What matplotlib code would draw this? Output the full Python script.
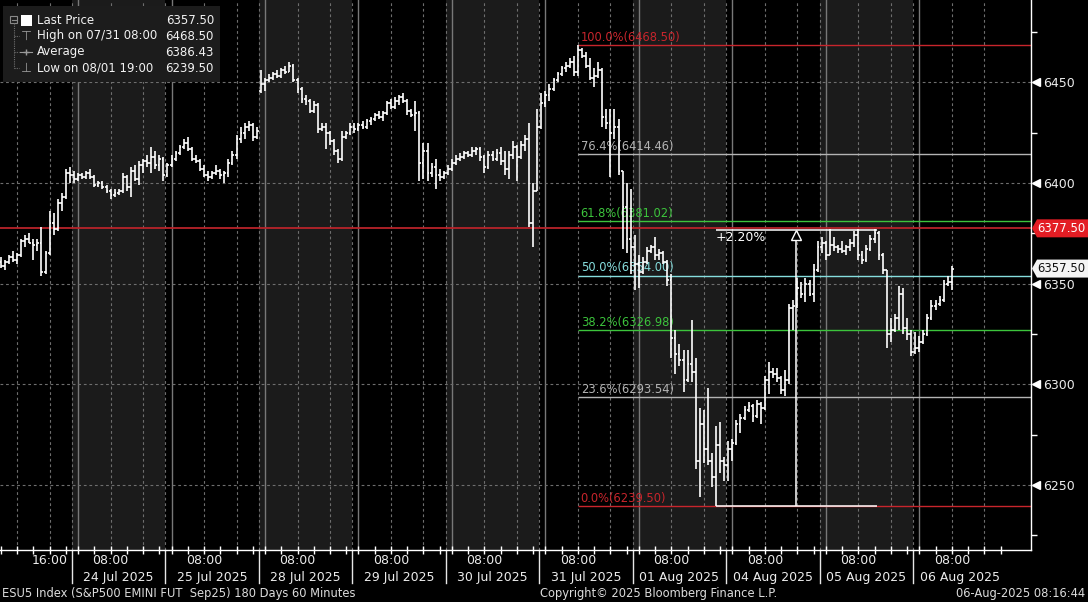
import numpy as np
import matplotlib
matplotlib.use("Agg")
import matplotlib.pyplot as plt
from matplotlib.patches import Polygon, Rectangle
from matplotlib.transforms import offset_copy, IdentityTransform, blended_transform_factory

# hourly OHLC bars, ESU5, 23 Jul 04:00 -> 06 Aug 08:00 (London time)
OPEN = [
    6361, 6359, 6361, 6363, 6362, 6364, 6371, 6372, 6370, 6369, 6370, 6356, 6365, 6380, 6377, 6390, 6393, 6405,
    6404, 6402, 6404, 6403, 6405, 6403, 6399, 6400, 6398, 6396, 6394, 6395, 6396, 6403, 6398, 6406, 6402, 6409, 6411, 6410, 6413, 6409, 6412,
    6404, 6409, 6412, 6415, 6418, 6420, 6417, 6412, 6411, 6407, 6404, 6403, 6405, 6406, 6404, 6405, 6410, 6414, 6422, 6425, 6428, 6429, 6423,
    6446, 6449, 6451, 6452, 6454, 6453, 6456, 6455, 6458, 6451, 6447, 6442, 6441, 6436, 6439, 6427, 6428, 6425, 6421, 6416, 6412, 6423, 6425,
    6428, 6427, 6429, 6428, 6431, 6432, 6434, 6433, 6435, 6440, 6438, 6441, 6443, 6441, 6436, 6434, 6435, 6410, 6416, 6405, 6408, 6404, 6403,
    6405, 6407, 6410, 6412, 6413, 6415, 6414, 6416, 6417, 6413, 6408, 6414, 6412, 6415, 6411, 6407, 6414, 6418, 6413, 6419, 6422, 6380, 6396,
    6428, 6440, 6444, 6447, 6451, 6454, 6457, 6458, 6460, 6455, 6466, 6463, 6458, 6452, 6453, 6456, 6433, 6430, 6425, 6428, 6406, 6388, 6372,
    6368, 6360, 6356, 6361, 6366, 6368, 6364, 6365, 6361, 6352, 6323, 6315, 6312, 6302, 6310, 6306, 6262, 6280, 6268, 6262, 6254, 6270, 6262,
    6260, 6268, 6271, 6280, 6283, 6287, 6289, 6284, 6290, 6288, 6302, 6306, 6305, 6303, 6297, 6302, 6338, 6339, 6348, 6345, 6350, 6345, 6357,
    6368, 6370, 6364, 6369, 6368, 6367, 6366, 6368, 6370, 6374, 6364, 6362, 6367, 6372, 6375, 6364, 6357, 6325, 6327, 6333, 6345, 6328, 6325,
    6316, 6318, 6321, 6325, 6333, 6339, 6340, 6342, 6350, 6351,
]
HIGH = [
    6363, 6362, 6364, 6366, 6365, 6372, 6374, 6375, 6372, 6372, 6378, 6366, 6386, 6385, 6392, 6395, 6407, 6408,
    6406, 6405, 6405, 6406, 6407, 6404, 6401, 6401, 6399, 6397, 6397, 6397, 6405, 6404, 6408, 6409, 6411, 6412, 6414, 6418, 6416, 6414, 6413,
    6410, 6414, 6416, 6419, 6422, 6423, 6418, 6414, 6412, 6409, 6406, 6406, 6409, 6407, 6406, 6412, 6416, 6424, 6428, 6430, 6431, 6430, 6428,
    6456, 6452, 6454, 6455, 6456, 6457, 6458, 6460, 6459, 6452, 6448, 6444, 6442, 6441, 6440, 6430, 6430, 6426, 6422, 6417, 6426, 6426, 6430,
    6430, 6430, 6431, 6432, 6433, 6435, 6436, 6436, 6441, 6442, 6443, 6444, 6445, 6442, 6437, 6441, 6436, 6420, 6420, 6410, 6412, 6407, 6406,
    6409, 6412, 6414, 6415, 6416, 6416, 6418, 6418, 6418, 6414, 6416, 6416, 6417, 6418, 6416, 6416, 6421, 6419, 6421, 6424, 6430, 6400, 6437,
    6445, 6446, 6449, 6452, 6455, 6458, 6460, 6462, 6463, 6468.5, 6467, 6465, 6462, 6457, 6460, 6457, 6437, 6437, 6437, 6432, 6406, 6400, 6397,
    6374, 6364, 6363, 6368, 6369, 6373, 6367, 6366, 6362, 6355, 6327, 6320, 6317, 6317, 6332, 6313, 6288, 6287, 6298, 6266, 6279, 6281, 6264,
    6272, 6273, 6282, 6285, 6289, 6291, 6290, 6292, 6291, 6304, 6311, 6308, 6308, 6304, 6307, 6340, 6342, 6353, 6351, 6353, 6352, 6360, 6371,
    6373, 6371, 6377, 6373, 6369, 6371, 6369, 6372, 6376, 6377, 6366, 6369, 6374, 6377, 6376, 6365, 6357, 6333, 6335, 6349, 6348, 6333, 6327,
    6326, 6324, 6327, 6335, 6342, 6342, 6344, 6352, 6354, 6359,
]
LOW = [
    6358, 6357, 6360, 6361, 6360, 6363, 6368, 6370, 6362, 6366, 6354, 6355, 6364, 6374, 6376, 6386, 6392, 6400,
    6400, 6401, 6402, 6402, 6402, 6398, 6398, 6397, 6395, 6392, 6393, 6394, 6395, 6396, 6393, 6401, 6399, 6405, 6408, 6405, 6407, 6406, 6401,
    6403, 6408, 6411, 6414, 6417, 6416, 6411, 6410, 6406, 6403, 6401, 6402, 6404, 6402, 6400, 6403, 6409, 6412, 6420, 6422, 6426, 6421, 6422,
    6445, 6446, 6450, 6451, 6452, 6452, 6454, 6455, 6450, 6445, 6440, 6439, 6435, 6435, 6425, 6426, 6417, 6419, 6414, 6410, 6411, 6422, 6424,
    6425, 6426, 6427, 6427, 6429, 6431, 6432, 6431, 6434, 6437, 6437, 6439, 6440, 6434, 6433, 6426, 6401, 6402, 6401, 6403, 6397, 6401, 6402,
    6404, 6406, 6409, 6411, 6412, 6413, 6413, 6414, 6411, 6405, 6407, 6411, 6411, 6409, 6404, 6402, 6412, 6401, 6412, 6416, 6378, 6368, 6396,
    6427, 6438, 6441, 6446, 6450, 6453, 6455, 6457, 6453, 6453, 6462, 6457, 6451, 6448, 6452, 6428, 6427, 6403, 6422, 6404, 6367, 6365, 6355,
    6347, 6348, 6355, 6360, 6365, 6362, 6362, 6360, 6349, 6313, 6305, 6309, 6296, 6301, 6301, 6258, 6244, 6261, 6260, 6249, 6239.5, 6256, 6252,
    6252, 6262, 6270, 6276, 6282, 6286, 6281, 6283, 6280, 6287, 6295, 6303, 6301, 6295, 6294, 6300, 6327, 6338, 6343, 6341, 6344, 6341, 6356,
    6365, 6362, 6364, 6366, 6365, 6365, 6364, 6366, 6368, 6362, 6360, 6361, 6366, 6370, 6362, 6355, 6318, 6321, 6326, 6327, 6325, 6322, 6314,
    6315, 6316, 6320, 6324, 6332, 6337, 6339, 6341, 6349, 6347,
]
CLOSE = [
    6359, 6361, 6363, 6362, 6364, 6371, 6372, 6370, 6369, 6370, 6356, 6365, 6380, 6377, 6390, 6393, 6405, 6404,
    6402, 6404, 6403, 6405, 6403, 6399, 6400, 6398, 6396, 6394, 6395, 6396, 6403, 6398, 6406, 6402, 6409, 6411, 6410, 6413, 6409, 6412, 6404,
    6409, 6412, 6415, 6418, 6420, 6417, 6412, 6411, 6407, 6404, 6403, 6405, 6406, 6404, 6405, 6410, 6414, 6422, 6425, 6428, 6429, 6423, 6426,
    6449, 6451, 6452, 6454, 6453, 6456, 6455, 6458, 6451, 6447, 6442, 6441, 6436, 6439, 6427, 6428, 6425, 6421, 6416, 6412, 6423, 6425, 6428,
    6427, 6429, 6428, 6431, 6432, 6434, 6433, 6435, 6440, 6438, 6441, 6443, 6441, 6436, 6434, 6435, 6410, 6416, 6405, 6408, 6404, 6403, 6405,
    6407, 6410, 6412, 6413, 6415, 6414, 6416, 6417, 6413, 6408, 6414, 6412, 6415, 6411, 6407, 6414, 6418, 6413, 6419, 6422, 6380, 6396, 6428,
    6440, 6444, 6447, 6451, 6454, 6457, 6458, 6460, 6455, 6466, 6463, 6458, 6452, 6453, 6456, 6433, 6430, 6425, 6428, 6406, 6388, 6372, 6368,
    6360, 6356, 6361, 6366, 6368, 6364, 6365, 6361, 6352, 6323, 6315, 6312, 6302, 6310, 6306, 6262, 6280, 6268, 6262, 6254, 6270, 6262, 6260,
    6268, 6271, 6280, 6283, 6287, 6289, 6284, 6290, 6288, 6302, 6306, 6305, 6303, 6297, 6302, 6338, 6339, 6348, 6345, 6350, 6345, 6357, 6368,
    6370, 6364, 6369, 6368, 6367, 6366, 6368, 6370, 6374, 6364, 6362, 6367, 6372, 6375, 6364, 6357, 6325, 6327, 6333, 6345, 6328, 6325, 6316,
    6318, 6321, 6325, 6333, 6339, 6340, 6342, 6350, 6351, 6357.5,
]

DAYS = ["24 Jul 2025", "25 Jul 2025", "28 Jul 2025", "29 Jul 2025", "30 Jul 2025",
        "31 Jul 2025", "01 Aug 2025", "04 Aug 2025", "05 Aug 2025", "06 Aug 2025"]
FIRST_SESSION = 18      # bar index of the 23:00 bar that opens 24 Jul
SESSION_LEN = 23

FIB_PCT = [100.0, 76.4, 61.8, 50.0, 38.2, 23.6, 0.0]
FIB_PRICE = [6468.50, 6414.46, 6381.02, 6354.00, 6326.98, 6293.54, 6239.50]
FIB_COLOR = ["#c8252c", "#b4b4b4", "#3cc43c", "#86dede", "#3cc43c", "#b4b4b4", "#c8252c"]
FIB_START = 142          # 31 Jul 08:00 bar (swing high)

PRICE_LINE = 6377.50
LAST_PRICE = 6357.50
MEAS_START, MEAS_END, MEAS_MID = 176, 215.5, 195.7
MEAS_LOW, MEAS_PCT = 6239.50, 2.20

YTICKS = [6250, 6300, 6350, 6400, 6450]
LEGEND_ROWS = [("Last Price", "6357.50"), ("High on 07/31 08:00", "6468.50"),
               ("Average", "6386.43"), ("Low on 08/01 19:00", "6239.50")]

W, H = 1088, 602
FS = 9


def fx(px):
    return px / W


def fy(py):
    return 1 - py / H


fig = plt.figure(figsize=(W / 100, H / 100), dpi=100, facecolor="black")
ax = fig.add_axes([0, 52 / H, 1031 / W, 550 / H])
ax.set_facecolor("black")
XMAX = 253.5
ax.set_xlim(-0.21, XMAX)
ax.set_ylim(6217.6, 6491.0)

x = np.arange(len(CLOSE))

# alternating session shading + vertical grid
for k in range(len(DAYS)):
    b = FIRST_SESSION + SESSION_LEN * k - 0.5
    if k % 2 == 0:
        ax.axvspan(b, b + SESSION_LEN, color="#1b1b1b", lw=0, zorder=0)
    ax.axvline(b, color="#6e6e6e", lw=0.8, ls=(0, (2.5, 2.5)), zorder=1)
    ax.axvline(b + 1.5, color="#787878", lw=1.0, zorder=1)
for k in range(-1, len(DAYS)):
    for j in (9, 17):
        xi = FIRST_SESSION + SESSION_LEN * k + j
        if 0 <= xi <= XMAX:
            ax.axvline(xi, color="#6e6e6e", lw=0.8, ls=(0, (2.5, 2.5)), zorder=1)
for yt in YTICKS:
    ax.axhline(yt, color="#6e6e6e", lw=0.8, ls=(0, (2.5, 2.5)), zorder=1)

# fibonacci retracement
for pct, pr, col in zip(FIB_PCT, FIB_PRICE, FIB_COLOR):
    ax.hlines(pr, FIB_START, XMAX, color=col, lw=1.0, zorder=2)
    ax.annotate(f"{pct:.1f}%({pr:.2f})", (FIB_START, pr), xytext=(2, 1),
                textcoords="offset points", color=col, fontsize=8.3, va="bottom", zorder=2)
ax.axhline(PRICE_LINE, color="#b8232a", lw=1.3, zorder=2)

# measurement tool
top = MEAS_LOW * (1 + MEAS_PCT / 100)
ax.hlines([MEAS_LOW, top], MEAS_START, MEAS_END, color="white", lw=1.1, zorder=3)
ax.vlines(MEAS_MID, MEAS_LOW, top - 5, color="white", lw=1.1, zorder=3)
ax.plot([MEAS_MID], [top - 2.8], marker="^", ms=7, mfc="black", mec="white", mew=1.0, zorder=4)
ax.annotate(f"+{MEAS_PCT:.2f}%", (MEAS_START, top), xytext=(0, -8), textcoords="offset pixels",
            color="white", fontsize=FS, va="center", ha="left", zorder=4)

# OHLC bars
ax.vlines(x, LOW, HIGH, color="white", lw=1.2, zorder=3)
ax.hlines(OPEN, x - 0.45, x, color="white", lw=1.2, zorder=3)
ax.hlines(CLOSE, x, x + 0.45, color="white", lw=1.2, zorder=3)

# spines / axes
for s in ("left", "top"):
    ax.spines[s].set_visible(False)
for s in ("bottom", "right"):
    ax.spines[s].set_color("white")
    ax.spines[s].set_linewidth(1.0)
ax.yaxis.tick_right()
ax.set_yticks(YTICKS)
ax.set_yticklabels([str(v) for v in YTICKS])
ax.set_yticks([v + 25 for v in [6200] + YTICKS], minor=True)
ax.tick_params(axis="y", which="major", length=0, pad=9, labelsize=FS, labelcolor="#ececec")
ax.tick_params(axis="y", which="minor", length=4, width=1, color="white", direction="out")
tri = offset_copy(blended_transform_factory(ax.transAxes, ax.transData), fig=fig, x=5, units="dots")
ax.plot(np.ones(len(YTICKS)), YTICKS, transform=tri, marker="<", ms=5.5, color="white",
        ls="none", clip_on=False)

four_h = []
for k in range(-1, len(DAYS)):
    for j in (1, 5, 9, 13, 17, 21):
        xi = FIRST_SESSION + SESSION_LEN * k + j
        if 0 <= xi <= XMAX:
            four_h.append(xi)
ax.set_xticks(four_h)
ax.tick_params(axis="x", length=6, width=1, direction="inout", color="white", labelbottom=False)

xt = ax.get_xaxis_transform()
t_time = offset_copy(xt, fig=fig, y=-11, units="dots")
t_date = offset_copy(xt, fig=fig, y=-28, units="dots")
ax.text(FIRST_SESSION - SESSION_LEN + 17, 0, "16:00", transform=t_time, ha="center", va="center",
        color="#ececec", fontsize=FS)
for k, day in enumerate(DAYS):
    b = FIRST_SESSION + SESSION_LEN * k - 0.5
    ax.text(b + 9.5, 0, "08:00", transform=t_time, ha="center", va="center", color="#ececec", fontsize=FS)
    ax.text(b + SESSION_LEN / 2, 0, day, transform=t_date, ha="center", va="center",
            color="#ececec", fontsize=FS)
    ax.plot([b, b], [0, -33 / 550], transform=xt, color="#e6e6e6", lw=1, clip_on=False)

# right-hand price tags
def price_tag(price, face, tc):
    yd = ax.transData.transform((0, price))[1]
    poly = Polygon([(1032, yd), (1037, yd + 9), (1088, yd + 9), (1088, yd - 9), (1037, yd - 9)],
                   closed=True, fc=face, ec="none", transform=IdentityTransform(), zorder=6)
    fig.add_artist(poly)
    fig.text(1037, yd, f"{price:.2f}", transform=IdentityTransform(), color=tc, fontsize=8.4,
             va="center", ha="left", zorder=7)


price_tag(PRICE_LINE, "#e31d24", "white")
price_tag(LAST_PRICE, "#f4f4f4", "#111111")

# legend box
fig.add_artist(Rectangle((fx(3), fy(82)), fx(217), 76 / H, transform=fig.transFigure,
                         fc="#1c1c1c", ec="none", zorder=5))
rows_y = [21, 36, 52, 68]
for (lab, val), ry in zip(LEGEND_ROWS, rows_y):
    fig.text(fx(37), fy(ry), lab, color="#f2f2f2", fontsize=8.5, va="center", zorder=6)
    fig.text(fx(214), fy(ry), val, color="#f2f2f2", fontsize=8.5, va="center", ha="right", zorder=6)
fig.add_artist(Rectangle((fx(21), fy(26)), fx(11), 11 / H, transform=fig.transFigure,
                         fc="white", ec="none", zorder=6))
fig.add_artist(Rectangle((fx(10), fy(23)), fx(7), 7 / H, transform=fig.transFigure,
                         fc="none", ec="#8a8a8a", lw=0.8, zorder=6))
fig.add_artist(plt.Line2D([fx(11.5), fx(15.5)], [fy(19.5), fy(19.5)], color="#8a8a8a", lw=0.8, zorder=6))
fig.add_artist(plt.Line2D([fx(13.5), fx(13.5)], [fy(23), fy(68)], color="#707070", lw=0.8,
                          ls=(0, (1, 1)), zorder=6))
for ry in rows_y[1:]:
    fig.add_artist(plt.Line2D([fx(13.5), fx(19)], [fy(ry), fy(ry)], color="#707070", lw=0.8,
                              ls=(0, (1, 1)), zorder=6))
fig.text(fx(26), fy(36), "\u22a4", color="#9a9a9a", fontsize=9, ha="center", va="center", zorder=6)
fig.text(fx(26), fy(68), "\u22a5", color="#9a9a9a", fontsize=9, ha="center", va="center", zorder=6)
fig.add_artist(plt.Line2D([fx(20), fx(32)], [fy(52), fy(52)], color="#9a9a9a", lw=0.8, zorder=6))
fig.add_artist(plt.Line2D([fx(26)], [fy(52)], marker="+", ms=4, color="#9a9a9a", zorder=6))

# footer
fig.text(fx(2), fy(594), "ESU5 Index (S&P500 EMINI FUT  Sep25) 180 Days 60 Minutes",
         color="#dcdcdc", fontsize=8.3, va="center")
fig.text(fx(540), fy(594), "Copyright\u00a9 2025 Bloomberg Finance L.P.", color="#dcdcdc",
         fontsize=8.3, va="center")
fig.text(fx(1085), fy(594), "06-Aug-2025 08:16:44", color="#dcdcdc", fontsize=8.3, va="center", ha="right")

fig.savefig("out.png", dpi=100, facecolor="black")
